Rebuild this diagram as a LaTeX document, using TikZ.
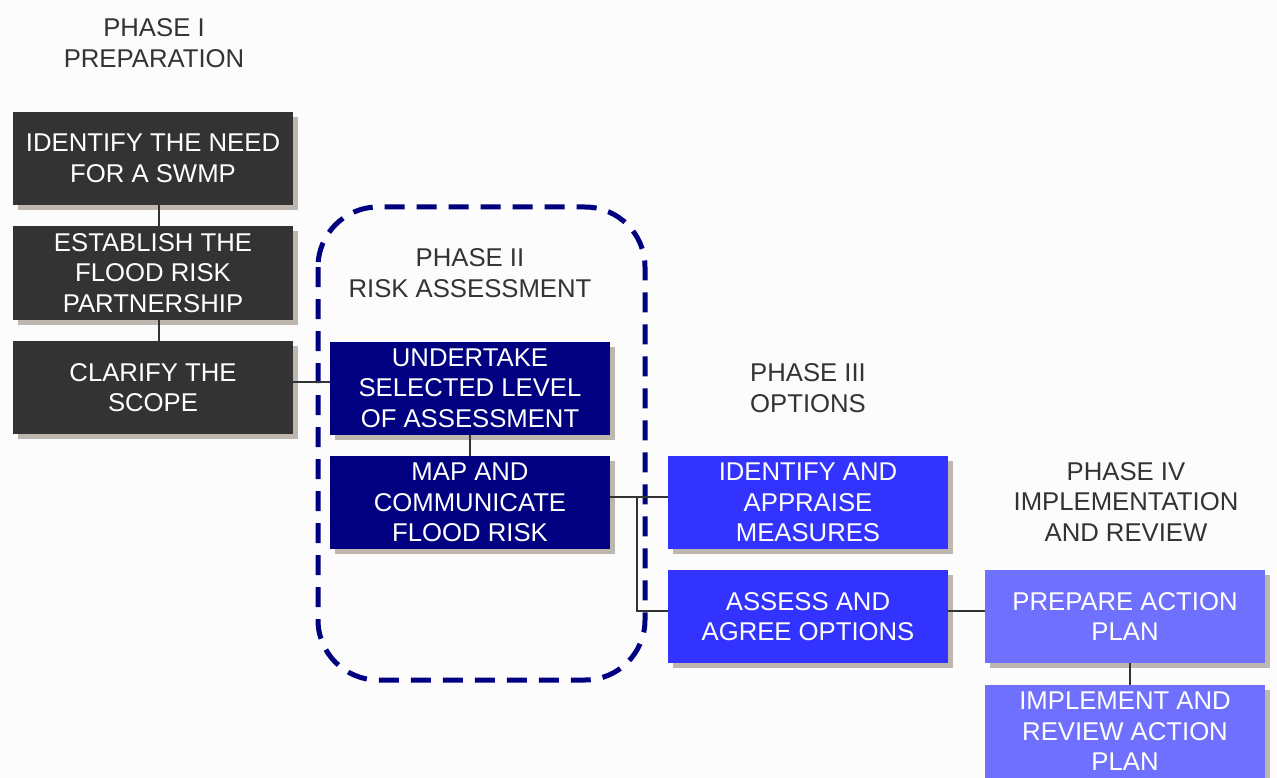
\documentclass[tikz,border=0pt]{standalone}
\usepackage{fontspec}
\setmainfont{Liberation Sans}
\usetikzlibrary{shadows}
\definecolor{bg}{HTML}{FCFCFC}
\definecolor{darkbox}{HTML}{333333}
\definecolor{navybox}{HTML}{000080}
\definecolor{bluebox}{HTML}{3333FF}
\definecolor{lightbox}{HTML}{7070FF}
\definecolor{shadowgray}{HTML}{BDB7AF}
\definecolor{labelgray}{HTML}{333333}
\begin{document}
\begin{tikzpicture}[x=1pt,y=-1pt,
  stepbox/.style={rectangle, minimum width=280pt, minimum height=93pt, inner sep=0pt,
    text=white, align=center, font=\fontsize{25.7}{30.5}\selectfont,
    drop shadow={shadow xshift=5pt, shadow yshift=-5pt, fill=shadowgray, opacity=1}},
  phaselabel/.style={align=center, text=labelgray, font=\fontsize{25.7}{30.5}\selectfont, inner sep=0pt},
  conn/.style={draw=labelgray, line width=2pt}
]
\useasboundingbox[fill=bg] (0,0) rectangle (1277,778);
% dashed phase II outline
\draw[navybox, line width=5pt, dash pattern=on 20pt off 12pt, rounded corners=60pt] (318,207) rectangle (645,680);
% phase labels
\node[phaselabel] (p1) at (154,43) {PHASE I\\PREPARATION};
\node[phaselabel] (p2) at (470,273) {PHASE II\\RISK ASSESSMENT};
\node[phaselabel] (p3) at (808,388) {PHASE III\\OPTIONS};
\node[phaselabel] (p4) at (1126,502) {PHASE IV\\IMPLEMENTATION\\AND REVIEW};
% boxes
\node[stepbox, fill=darkbox] (b1) at (153,158.5) {IDENTIFY THE NEED\\FOR A SWMP};
\node[stepbox, fill=darkbox] (b2) at (153,273) {ESTABLISH THE\\FLOOD RISK\\PARTNERSHIP};
\node[stepbox, fill=darkbox] (b3) at (153,387.5) {CLARIFY THE\\SCOPE};
\node[stepbox, fill=navybox] (u) at (470,388) {UNDERTAKE\\SELECTED LEVEL\\OF ASSESSMENT};
\node[stepbox, fill=navybox] (m) at (470,502.5) {MAP AND\\COMMUNICATE\\FLOOD RISK};
\node[stepbox, fill=bluebox] (i) at (808,502.5) {IDENTIFY AND\\APPRAISE\\MEASURES};
\node[stepbox, fill=bluebox] (a) at (808,616.5) {ASSESS AND\\AGREE OPTIONS};
\node[stepbox, fill=lightbox] (pr) at (1125,616.5) {PREPARE ACTION\\PLAN};
\node[stepbox, fill=lightbox] (im) at (1125,731.5) {IMPLEMENT AND\\REVIEW ACTION\\PLAN};
% connectors
\coordinate (j) at (637,497);
\draw[conn] ([xshift=6pt]b1.south) -- ([xshift=6pt]b2.north);
\draw[conn] ([xshift=6pt]b2.south) -- ([xshift=6pt]b3.north);
\draw[conn] (b3.east |- 0,382) -- (u.west |- 0,382);
\draw[conn] (u.south) -- (m.north);
\draw[conn] (m.east |- j) -- (i.west |- j);
\draw[conn] (j) |- (a.west |- 0,611);
\draw[conn] (a.east |- 0,611) -- (pr.west |- 0,611);
\draw[conn] ([xshift=5pt]pr.south) -- ([xshift=5pt]im.north);
\end{tikzpicture}
\end{document}
